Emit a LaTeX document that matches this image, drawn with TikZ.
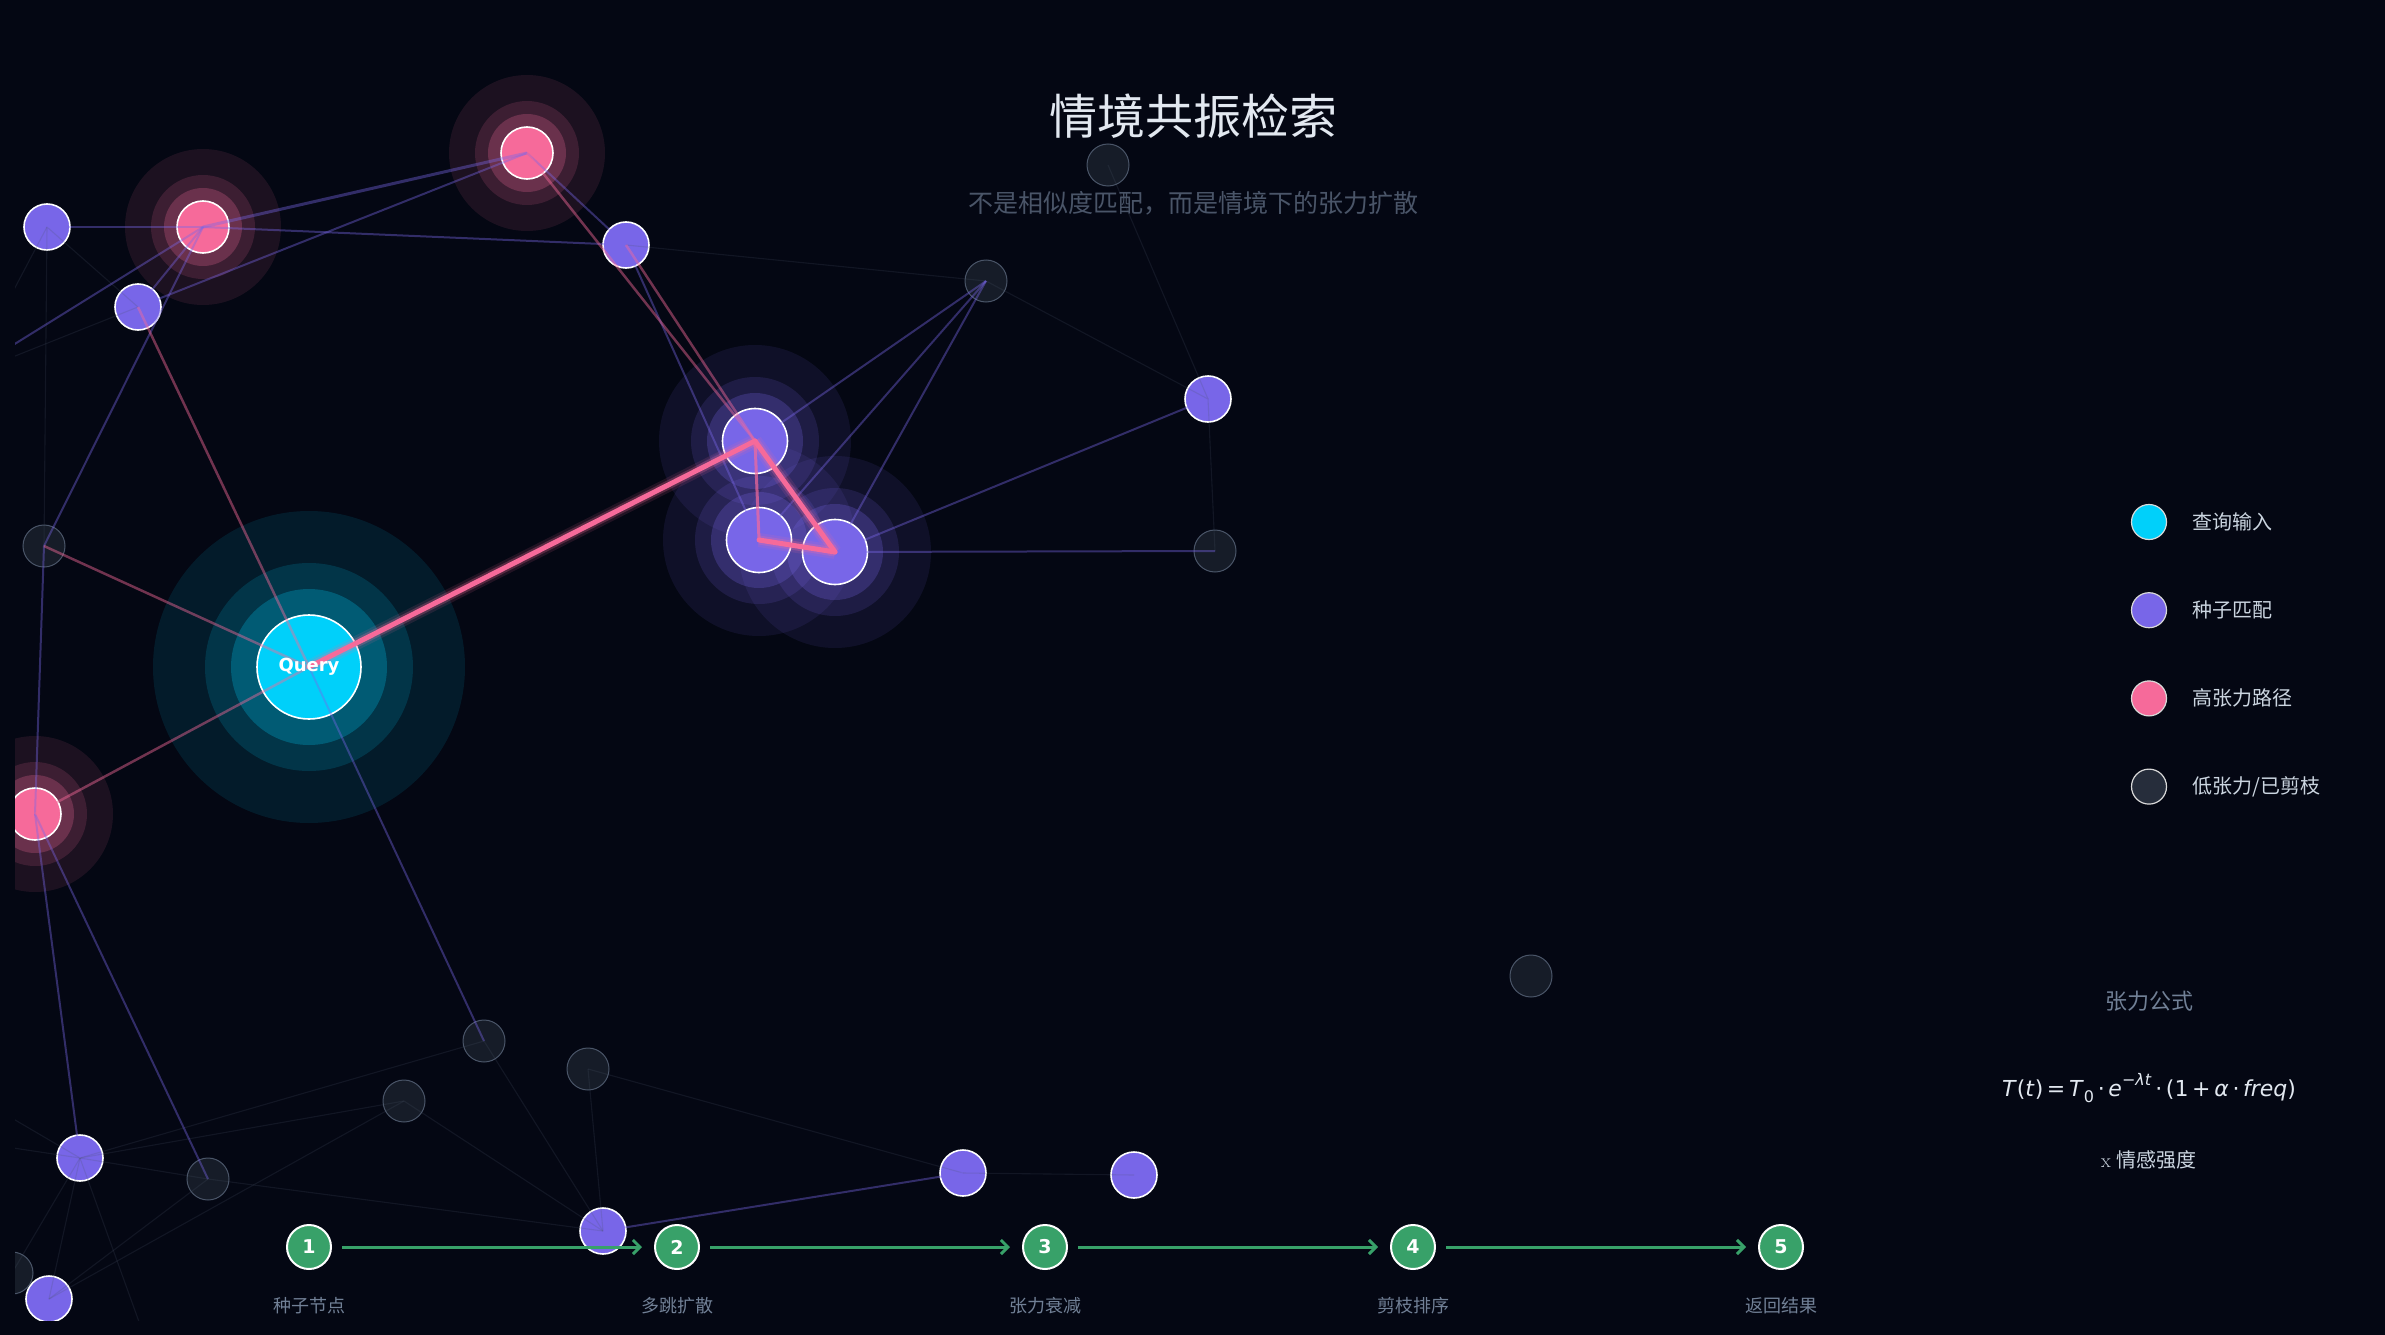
\documentclass[tikz,border=0pt]{standalone}
\usepackage{fontspec}
\usepackage{tikz}
\usetikzlibrary{positioning}
\usetikzlibrary{arrows.meta}

\newfontfamily\cjk{Noto Sans CJK SC}
\newfontfamily\dejavu{DejaVu Sans}

\definecolor{night}{RGB}{4,7,19}
\definecolor{cyanq}{RGB}{0,208,250}
\definecolor{seedc}{RGB}{120,102,232}
\definecolor{hotc}{RGB}{246,106,154}
\definecolor{lowc}{RGB}{22,28,40}
\definecolor{lowrim}{RGB}{74,85,104}
\definecolor{stepc}{RGB}{56,161,105}
\definecolor{titlec}{RGB}{226,232,240}
\definecolor{subc}{RGB}{74,85,104}
\definecolor{greyc}{RGB}{113,128,150}
\definecolor{legc}{RGB}{203,213,224}

\pgfdeclarelayer{glow}
\pgfdeclarelayer{wire}
\pgfsetlayers{glow,main,wire}

% three soft rings round a node: name, colour, radius
\newcommand\ringglow[3]{%
  \fill[#2,opacity=.10] (#1.center) circle ({3*#3pt});
  \fill[#2,opacity=.15] (#1.center) circle ({2*#3pt});
  \fill[#2,opacity=.25] (#1.center) circle ({1.5*#3pt});}

\begin{document}
\begin{tikzpicture}[x=1pt,y=-1pt,
  qnode/.style={circle,inner sep=0pt,fill=cyanq,draw=white,line width=1.6pt,minimum size=104pt},
  hotnode/.style={circle,inner sep=0pt,fill=hotc,draw=white,line width=1.6pt,minimum size=52pt},
  seednode/.style={circle,inner sep=0pt,fill=seedc,draw=white,line width=1.6pt,minimum size=46pt},
  bigseed/.style={seednode,minimum size=65pt},
  lownode/.style={circle,inner sep=0pt,fill=lowc,draw=lowrim,line width=1pt,minimum size=42pt},
  hot/.style={draw=hotc,line width=5pt,line cap=round,
    preaction={draw=hotc,draw opacity=.12,line width=14pt},
    preaction={draw=hotc,draw opacity=.25,line width=9pt}},
  warm/.style={draw=hotc,draw opacity=.45,line width=2.5pt},
  link/.style={draw=seedc,draw opacity=.4,line width=2pt},
  faint/.style={draw=lowrim,draw opacity=.2,line width=1.1pt},
  stepnode/.style={circle,inner sep=0pt,fill=stepc,draw=white,line width=2pt,minimum size=44pt,
    text=white,font=\dejavu\bfseries\fontsize{19}{19}\selectfont},
  steplabel/.style={text=greyc,font=\cjk\fontsize{18}{18}\selectfont},
  flow/.style={draw=stepc,line width=3pt,-{Straight Barb[length=7pt,width=14pt]},
    shorten <=10pt,shorten >=12pt},
  keynode/.style={circle,inner sep=0pt,draw=white!85!black,line width=1.2pt,minimum size=35pt},
  keytext/.style={anchor=west,text=legc,font=\cjk\fontsize{20}{20}\selectfont}]
  \useasboundingbox (0,0) rectangle (2385,1335);

  % graph nodes
  \begin{scope}
    \clip (15,15) rectangle (2370,1320);
    \node[qnode]    (qry)   at (309,667)  {};
    \node[hotnode]  (hiA)   at (527,153)  {};
    \node[hotnode]  (hiB)   at (203,227)  {};
    \node[hotnode]  (hiC)   at (35,814)   {};
    \node[bigseed]  (seedA) at (755,441)  {};
    \node[bigseed]  (seedB) at (759,540)  {};
    \node[bigseed]  (seedC) at (835,552)  {};
    \node[seednode] (pu1)   at (47,227)   {};
    \node[seednode] (pu2)   at (138,307)  {};
    \node[seednode] (pu3)   at (626,245)  {};
    \node[seednode] (pu4)   at (1208,399) {};
    \node[seednode] (pu5)   at (80,1158)  {};
    \node[seednode] (pu6)   at (603,1231) {};
    \node[seednode] (pu7)   at (963,1173) {};
    \node[seednode] (pu8)   at (1134,1175) {};
    \node[seednode] (pu9)   at (49,1299)  {};
    \node[lownode]  (lo1)   at (1108,165) {};
    \node[lownode]  (lo2)   at (986,281)  {};
    \node[lownode]  (lo3)   at (44,546)   {};
    \node[lownode]  (lo4)   at (1215,551) {};
    \node[lownode]  (lo5)   at (1531,976) {};
    \node[lownode]  (lo6)   at (484,1041) {};
    \node[lownode]  (lo7)   at (588,1069) {};
    \node[lownode]  (lo8)   at (404,1101) {};
    \node[lownode]  (lo9)   at (208,1179) {};
    \node[lownode]  (lo10)  at (12,1273)  {};
  \end{scope}
  \coordinate (offW) at (-40,378);
  \coordinate (offN) at (-20,354);
  \coordinate (offL) at (-60,1076);
  \coordinate (offM) at (-60,1137);
  \coordinate (offS) at (160,1380);

  \begin{pgfonlayer}{glow}
    \fill[night] (0,0) rectangle (2385,1335);
    \clip (15,15) rectangle (2370,1320);
    \ringglow{qry}{cyanq}{52}
    \ringglow{hiA}{hotc}{26}
    \ringglow{hiB}{hotc}{26}
    \ringglow{hiC}{hotc}{26}
    \ringglow{seedA}{seedc}{32}
    \ringglow{seedB}{seedc}{32}
    \ringglow{seedC}{seedc}{32}
  \end{pgfonlayer}

  \begin{pgfonlayer}{wire}
    \clip (15,15) rectangle (2370,1320);
    % low tension
    \draw[faint] (pu1.center) -- (lo3.center);
    \draw[faint] (pu1.center) -- (pu2.center);
    \draw[faint] (pu1.center) -- (offN);
    \draw[faint] (pu2.center) -- (offW);
    \draw[faint] (pu3.center) -- (lo2.center);
    \draw[faint] (lo2.center) -- (pu4.center);
    \draw[faint] (lo1.center) -- (pu4.center);
    \draw[faint] (pu4.center) -- (lo4.center);
    \draw[faint] (pu5.center) -- (lo6.center);
    \draw[faint] (pu5.center) -- (lo8.center);
    \draw[faint] (pu5.center) -- (lo9.center);
    \draw[faint] (pu5.center) -- (pu9.center);
    \draw[faint] (pu5.center) -- (lo10.center);
    \draw[faint] (pu5.center) -- (offL);
    \draw[faint] (pu5.center) -- (offM);
    \draw[faint] (pu5.center) -- (offS);
    \draw[faint] (lo9.center) -- (pu6.center);
    \draw[faint] (lo9.center) -- (pu9.center);
    \draw[faint] (lo8.center) -- (pu6.center);
    \draw[faint] (lo8.center) -- (pu9.center);
    \draw[faint] (lo6.center) -- (pu6.center);
    \draw[faint] (lo7.center) -- (pu6.center);
    \draw[faint] (lo7.center) -- (pu7.center);
    \draw[faint] (pu7.center) -- (pu8.center);
    % spreading
    \draw[link] (pu1.center) -- (hiB.center);
    \draw[link,line width=3pt] (hiB.center) -- (hiA.center);
    \draw[link] (hiB.center) -- (pu3.center);
    \draw[link] (hiB.center) -- (pu2.center);
    \draw[link] (hiB.center) -- (lo3.center);
    \draw[link] (hiB.center) -- (offW);
    \draw[link] (hiA.center) -- (pu2.center);
    \draw[link] (hiA.center) -- (pu3.center);
    \draw[link] (pu3.center) -- (seedB.center);
    \draw[link] (seedA.center) -- (lo2.center);
    \draw[link] (seedB.center) -- (lo2.center);
    \draw[link] (seedC.center) -- (lo2.center);
    \draw[link] (seedC.center) -- (pu4.center);
    \draw[link] (seedC.center) -- (lo4.center);
    \draw[link] (qry.center) -- (lo6.center);
    \draw[link] (lo3.center) -- (hiC.center);
    \draw[link] (hiC.center) -- (pu5.center);
    \draw[link] (hiC.center) -- (lo9.center);
    \draw[link] (pu6.center) -- (pu7.center);
    % high tension
    \draw[warm] (hiA.center) -- (seedA.center);
    \draw[warm] (pu3.center) -- (seedA.center);
    \draw[warm] (pu2.center) -- (qry.center);
    \draw[warm] (lo3.center) -- (qry.center);
    \draw[warm] (qry.center) -- (hiC.center);
    \draw[warm,draw opacity=.7,line width=3pt] (seedA.center) -- (seedB.center);
    \draw[hot] (qry.center) -- (seedA.center);
    \draw[hot] (seedA.center) -- (seedC.center);
    \draw[hot] (seedB.center) -- (seedC.center);
    \node[text=white,font=\dejavu\bfseries\fontsize{18}{18}\selectfont] (qtext) at (qry) {Query};
  \end{pgfonlayer}

  % titles
  \node[text=titlec,font=\cjk\fontsize{48}{48}\selectfont] (title) at (1193,116) {情境共振检索};
  \node[text=subc,font=\cjk\fontsize{25}{25}\selectfont] (subtitle) at (1193,203) {不是相似度匹配，而是情境下的张力扩散};

  % legend
  \node[keynode,fill=cyanq] (k1) at (2149,522) {};
  \node[keynode,fill=seedc] (k2) [below=52pt of k1] {};
  \node[keynode,fill=hotc]  (k3) [below=52pt of k2] {};
  \node[keynode,fill=lowc!70!lowrim] (k4) [below=52pt of k3] {};
  \node[keytext] (t1) [right=22pt of k1] {查询输入};
  \node[keytext] (t2) [right=22pt of k2] {种子匹配};
  \node[keytext] (t3) [right=22pt of k3] {高张力路径};
  \node[keytext] (t4) [right=22pt of k4] {低张力/已剪枝};

  % formula
  \node[text=greyc,font=\cjk\fontsize{22}{22}\selectfont] (fhead) at (2149,1001) {张力公式};
  \node[text=titlec,font=\dejavu\fontsize{22}{22}\selectfont] (formula) at (2149,1088)
    {\textit{T}(\textit{t})\,=\,\textit{T}\raisebox{-.28em}{\fontsize{16}{16}\selectfont 0}\,·\,\textit{e}\raisebox{.5em}{\fontsize{16}{16}\selectfont −\textit{λt}}\,·\,(1\,+\,\textit{α}\,·\,\textit{freq})};
  \node[text=legc,font=\fontsize{20}{20}\selectfont] (fnote) at (2149,1160) {x\ {\cjk 情感强度}};

  % pipeline
  \node[stepnode] (s1) at (309,1247) {1};
  \node[stepnode] (s2) [right=322pt of s1] {2};
  \node[stepnode] (s3) [right=322pt of s2] {3};
  \node[stepnode] (s4) [right=322pt of s3] {4};
  \node[stepnode] (s5) [right=322pt of s4] {5};
  \draw[flow] (s1) -- (s2);
  \draw[flow] (s2) -- (s3);
  \draw[flow] (s3) -- (s4);
  \draw[flow] (s4) -- (s5);
  \node[steplabel] (l1) [below=24pt of s1] {种子节点};
  \node[steplabel] (l2) [below=24pt of s2] {多跳扩散};
  \node[steplabel] (l3) [below=24pt of s3] {张力衰减};
  \node[steplabel] (l4) [below=24pt of s4] {剪枝排序};
  \node[steplabel] (l5) [below=24pt of s5] {返回结果};
\end{tikzpicture}
\end{document}
